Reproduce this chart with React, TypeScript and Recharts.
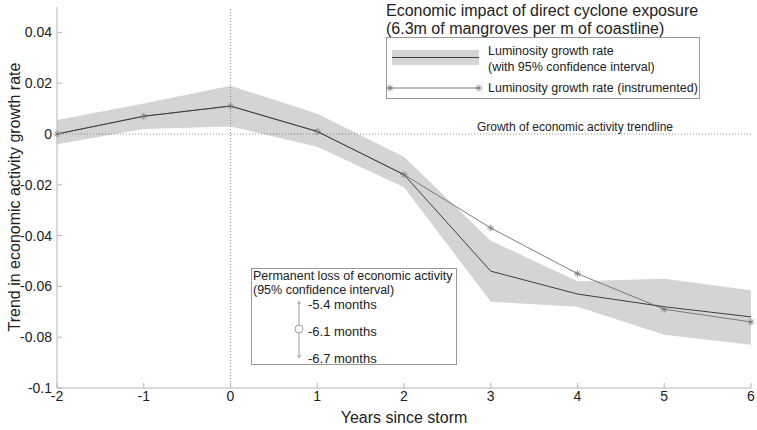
import React from "react";
import {
  ComposedChart,
  Area,
  Line,
  XAxis,
  YAxis,
  ReferenceLine,
} from "recharts";

const years = [-2, -1, 0, 1, 2, 3, 4, 5, 6];
const estimate = [0.0, 0.007, 0.011, 0.001, -0.016, -0.054, -0.063, -0.068, -0.072];
const instrumented = [0.0, 0.007, 0.011, 0.001, -0.016, -0.037, -0.055, -0.069, -0.074];
const ciLow = [-0.004, 0.002, 0.003, -0.005, -0.021, -0.066, -0.068, -0.079, -0.083];
const ciHigh = [0.0055, 0.012, 0.019, 0.008, -0.009, -0.042, -0.058, -0.057, -0.0615];

const yTicks = [-0.1, -0.08, -0.06, -0.04, -0.02, 0, 0.02, 0.04];
const lossLabels = ["-5.4 months", "-6.1 months", "-6.7 months"];

const data = years.map((year, i) => ({
  year,
  est: estimate[i],
  inst: instrumented[i],
  band: [ciLow[i], ciHigh[i]],
}));

const FONT = '"Liberation Sans", Arial, sans-serif';
const W = 757;
const H = 430;

const Star = (props: any) => {
  const { cx, cy } = props;
  if (cx == null || cy == null) return null;
  const r = 3.5;
  const d = r * 0.7;
  return (
    <g stroke="#777" strokeWidth={0.8}>
      <line x1={cx - r} y1={cy} x2={cx + r} y2={cy} />
      <line x1={cx} y1={cy - r} x2={cx} y2={cy + r} />
      <line x1={cx - d} y1={cy - d} x2={cx + d} y2={cy + d} />
      <line x1={cx - d} y1={cy + d} x2={cx + d} y2={cy - d} />
    </g>
  );
};

const fmt = (v: number) => String(Number(v.toFixed(2)));

export default function App() {
  return (
    <div style={{ position: "absolute", left: 0, top: 0, width: W, height: H, background: "#fff", fontFamily: FONT }}>
      <ComposedChart
        width={W}
        height={H}
        data={data}
        margin={{ top: 7, right: 6, bottom: 12, left: 7 }}
      >
        <XAxis
          dataKey="year"
          type="number"
          domain={[-2, 6]}
          ticks={years}
          interval={0}
          height={30}
          tickSize={-5}
          tickMargin={8}
          stroke="#b5b5b5"
          tick={{ fill: "#222", fontSize: 14, fontFamily: FONT }}
        />
        <YAxis
          type="number"
          domain={[-0.1, 0.05]}
          ticks={yTicks}
          interval={0}
          width={50}
          tickSize={-5}
          tickMargin={10}
          tickFormatter={fmt}
          stroke="#b5b5b5"
          tick={{ fill: "#222", fontSize: 14, fontFamily: FONT }}
        />
        <Area
          dataKey="band"
          type="linear"
          stroke="none"
          fill="#d4d4d4"
          fillOpacity={1}
          isAnimationActive={false}
        />
        <ReferenceLine y={0} stroke="#777" strokeDasharray="1 2" strokeWidth={0.8} />
        <ReferenceLine x={0} stroke="#777" strokeDasharray="1 2" strokeWidth={0.8} />
        <Line
          dataKey="inst"
          type="linear"
          stroke="#6e6e6e"
          strokeWidth={0.9}
          dot={<Star />}
          activeDot={false}
          isAnimationActive={false}
        />
        <Line
          dataKey="est"
          type="linear"
          stroke="#3f3f3f"
          strokeWidth={1}
          dot={false}
          activeDot={false}
          isAnimationActive={false}
        />
      </ComposedChart>

      {/* axis titles */}
      <div
        style={{
          position: "absolute",
          left: 15,
          top: 197,
          transform: "translate(-50%, -50%) rotate(-90deg)",
          whiteSpace: "nowrap",
          fontSize: 16,
          color: "#222",
        }}
      >
        Trend in economic activity growth rate
      </div>
      <div
        style={{
          position: "absolute",
          left: 404,
          top: 418,
          transform: "translate(-50%, -50%)",
          whiteSpace: "nowrap",
          fontSize: 16,
          color: "#222",
        }}
      >
        Years since storm
      </div>

      {/* title */}
      <div style={{ position: "absolute", left: 386, top: 2, fontSize: 16, lineHeight: "18px", color: "#222", whiteSpace: "nowrap" }}>
        Economic impact of direct cyclone exposure
        <br />
        (6.3m of mangroves per m of coastline)
      </div>

      {/* legend */}
      <div
        style={{
          position: "absolute",
          left: 386,
          top: 37,
          width: 314,
          height: 62,
          border: "1px solid #999",
          background: "#fff",
          boxSizing: "border-box",
        }}
      >
        <svg width={100} height={60} style={{ position: "absolute", left: 0, top: 0 }}>
          <rect x={5} y={12} width={87} height={15} fill="#d4d4d4" />
          <line x1={5} y1={19.5} x2={92} y2={19.5} stroke="#3f3f3f" strokeWidth={1} />
          <line x1={0} y1={50} x2={92} y2={50} stroke="#6e6e6e" strokeWidth={0.9} />
          <Star cx={3} cy={50} />
          <Star cx={92} cy={50} />
        </svg>
        <div style={{ position: "absolute", left: 101, top: 5, fontSize: 12.5, lineHeight: "16px", color: "#222", whiteSpace: "nowrap" }}>
          Luminosity growth rate
          <br />
          (with 95% confidence interval)
        </div>
        <div style={{ position: "absolute", left: 101, top: 42, fontSize: 12.5, lineHeight: "16px", color: "#222", whiteSpace: "nowrap" }}>
          Luminosity growth rate (instrumented)
        </div>
      </div>

      <div style={{ position: "absolute", left: 575, top: 127, transform: "translate(-50%, -50%)", fontSize: 12, color: "#222", whiteSpace: "nowrap" }}>
        Growth of economic activity trendline
      </div>

      {/* permanent loss inset */}
      <div
        style={{
          position: "absolute",
          left: 251,
          top: 268,
          width: 206,
          height: 97,
          border: "1px solid #999",
          background: "#fff",
          boxSizing: "border-box",
        }}
      >
        <div style={{ position: "absolute", left: 1, top: 0, fontSize: 12.5, lineHeight: "14px", color: "#222", whiteSpace: "nowrap" }}>
          Permanent loss of economic activity
          <br />
          (95% confidence interval)
        </div>
        <svg width={30} height={97} style={{ position: "absolute", left: 37, top: 0 }}>
          <line x1={10} y1={33} x2={10} y2={88} stroke="#aaa" strokeWidth={1.2} />
          <line x1={8.5} y1={35} x2={10} y2={32} stroke="#aaa" />
          <line x1={11.5} y1={35} x2={10} y2={32} stroke="#aaa" />
          <line x1={8.5} y1={86} x2={10} y2={89} stroke="#aaa" />
          <line x1={11.5} y1={86} x2={10} y2={89} stroke="#aaa" />
          <circle cx={10} cy={60} r={4} fill="#fff" stroke="#888" strokeWidth={0.8} />
        </svg>
        {lossLabels.map((t, i) => (
          <div
            key={t}
            style={{
              position: "absolute",
              left: 56,
              top: 35 + i * 27 - 6.5,
              fontSize: 13,
              lineHeight: "13px",
              color: "#222",
              whiteSpace: "nowrap",
            }}
          >
            {t}
          </div>
        ))}
      </div>
    </div>
  );
}
